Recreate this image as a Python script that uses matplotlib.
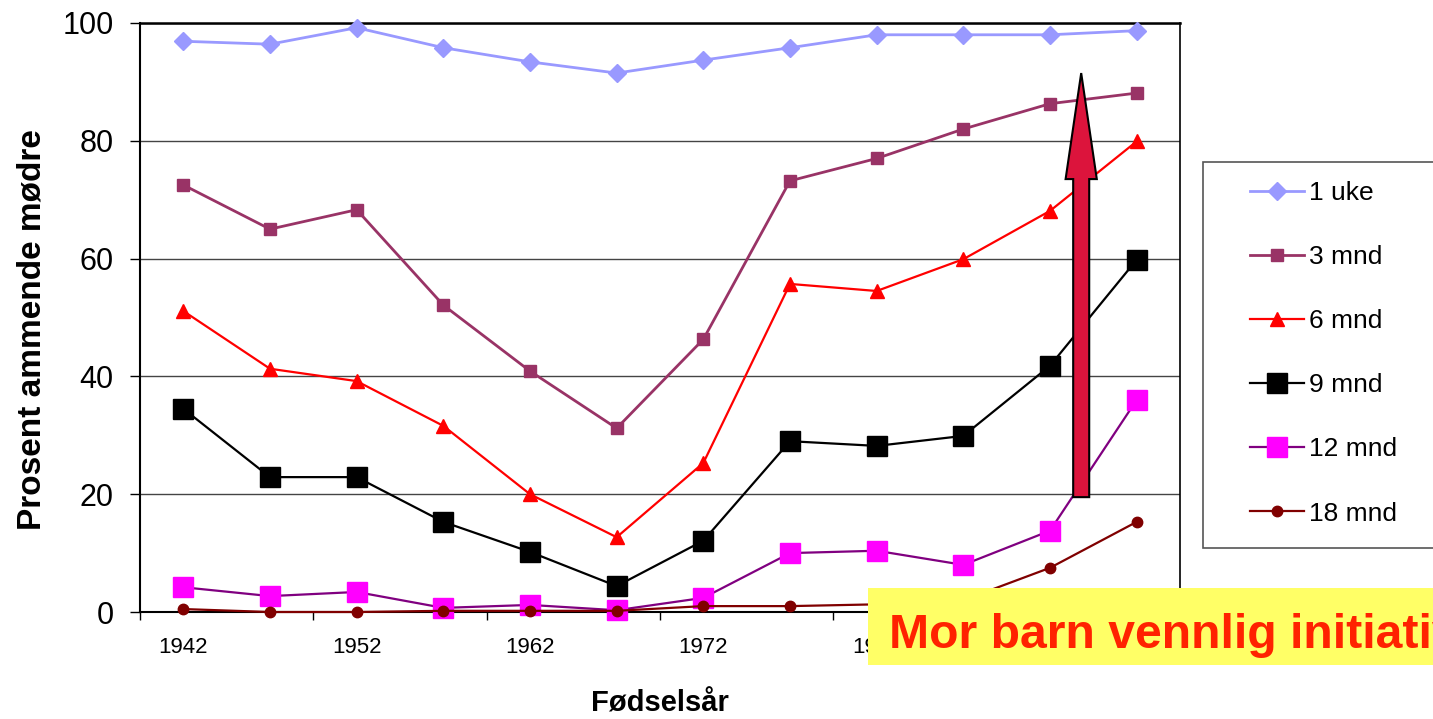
import matplotlib
matplotlib.use("Agg")
import matplotlib.pyplot as plt
from matplotlib.patches import FancyArrow, Rectangle
from matplotlib.ticker import FixedLocator, NullFormatter

plt.rcParams['font.family'] = ['Liberation Sans', 'DejaVu Sans']

years = [1942, 1947, 1952, 1957, 1962, 1967, 1972, 1977, 1982, 1987, 1992, 1997]
uke1 = [96.9, 96.4, 99.2, 95.8, 93.4, 91.5, 93.7, 95.8, 98.0, 98.0, 98.0, 98.7]
mnd3 = [72.5, 65.0, 68.3, 52.1, 40.9, 31.2, 46.3, 73.2, 77.0, 82.0, 86.3, 88.1]
mnd6 = [51.1, 41.3, 39.2, 31.6, 20.0, 12.7, 25.3, 55.7, 54.5, 59.9, 68.1, 79.9]
mnd9 = [34.5, 22.9, 22.9, 15.3, 10.2, 4.4, 12.1, 29.0, 28.2, 29.9, 41.8, 59.8]
mnd12 = [4.2, 2.7, 3.4, 0.7, 1.2, 0.3, 2.4, 10.0, 10.4, 8.0, 13.8, 36.0]
mnd18 = [0.5, 0.0, 0.0, 0.2, 0.2, 0.2, 1.0, 1.0, 1.3, 2.0, 7.5, 15.3]
series_labels = ['1 uke', '3 mnd', '6 mnd', '9 mnd', '12 mnd', '18 mnd']
yticks = [0, 20, 40, 60, 80, 100]

arrow_x, arrow_y0, arrow_y1 = 10.36, 19.5, 91.5
banner_text = 'Mor barn vennlig initiativ'

W, H = 1433, 719
fig = plt.figure(figsize=(W/100, H/100), dpi=100)
ax = fig.add_axes([140/W, 1-612/H, (1180-140)/W, (612-23)/H])

x = list(range(len(years)))
styles = [
    dict(color='#9999FF', marker='D', ms=9, mfc='#9999FF', mec='#9999FF', lw=2),
    dict(color='#993366', marker='s', ms=8.5, mfc='#993366', mec='#993366', lw=2),
    dict(color='#FF0000', marker='^', ms=10, mfc='#FF0000', mec='#FF0000', lw=1.6),
    dict(color='#000000', marker='s', ms=14, mfc='#000000', mec='#000000', lw=1.6),
    dict(color='#800080', marker='s', ms=14, mfc='#FF00FF', mec='#FF00FF', lw=1.6),
    dict(color='#800000', marker='o', ms=7.5, mfc='#800000', mec='#800000', lw=1.6),
]
data = [uke1, mnd3, mnd6, mnd9, mnd12, mnd18]
handles = []
for vals, lab, st in zip(data, series_labels, styles):
    h, = ax.plot(x, vals, label=lab, clip_on=False, zorder=3, **st)
    handles.append(h)

ax.set_xlim(-0.5, len(years) - 0.5)
ax.set_ylim(0, 100)
ax.set_yticks(yticks)
ax.set_yticklabels([str(v) for v in yticks], fontsize=22)
ax.yaxis.grid(True, color='#444444', lw=1)
ax.set_axisbelow(True)
ax.tick_params(axis='y', length=7, width=1, pad=12, direction='out')

major = [i - 0.5 for i in range(0, len(years) + 1, 2)]
ax.xaxis.set_major_locator(FixedLocator(major))
ax.xaxis.set_major_formatter(NullFormatter())
ax.xaxis.set_minor_locator(FixedLocator(x[::2]))
ax.set_xticklabels([str(years[i]) for i in x[::2]], minor=True, fontsize=16)
ax.tick_params(axis='x', which='major', length=6, width=1, direction='out')
ax.tick_params(axis='x', which='minor', length=0, pad=18)

for s in ax.spines.values():
    s.set_color('black')
    s.set_linewidth(1.2)
ax.spines['left'].set_linewidth(1.5)
ax.spines['bottom'].set_linewidth(1.5)
ax.spines['top'].set_linewidth(1.8)

ax.set_ylabel('Prosent ammende mødre', fontsize=24, fontweight='bold')
ax.yaxis.set_label_coords(-(140-48)/1040, (612-330)/589)
ax.set_xlabel('Fødselsår', fontsize=21, fontweight='bold')
ax.xaxis.set_label_coords(0.5, -(689-612)/589)

# legend frame drawn separately
frame = Rectangle((1203/W, 1-548/H), (1440-1203)/W, (548-162)/H,
                  transform=fig.transFigure, fc='white', ec='#555555',
                  lw=1.2, zorder=1)
fig.patches.append(frame)
leg = fig.legend(handles=handles, loc='upper left',
                 bbox_to_anchor=(1250/W, 1-181/H), fontsize=19,
                 frameon=False, labelspacing=1.52, handlelength=2.05,
                 handletextpad=0.2, borderpad=0, borderaxespad=0)
leg.set_zorder(2)

arr = FancyArrow(arrow_x, arrow_y0, 0, arrow_y1 - arrow_y0, width=0.185,
                 head_width=0.36, head_length=18, length_includes_head=True,
                 fc='#DC143C', ec='black', lw=1.5, zorder=5, clip_on=False)
ax.add_patch(arr)

rect = Rectangle((868/W, 1-665/H), 1.0, (665-588)/H,
                 transform=fig.transFigure, fc='#FFFF66', ec='none', zorder=10)
fig.patches.append(rect)
fig.text(889/W, 1-648/H, banner_text, fontsize=34.7, fontweight='bold',
         color='#FF2200', ha='left', va='baseline', zorder=11)

fig.savefig('out.png', dpi=100)
